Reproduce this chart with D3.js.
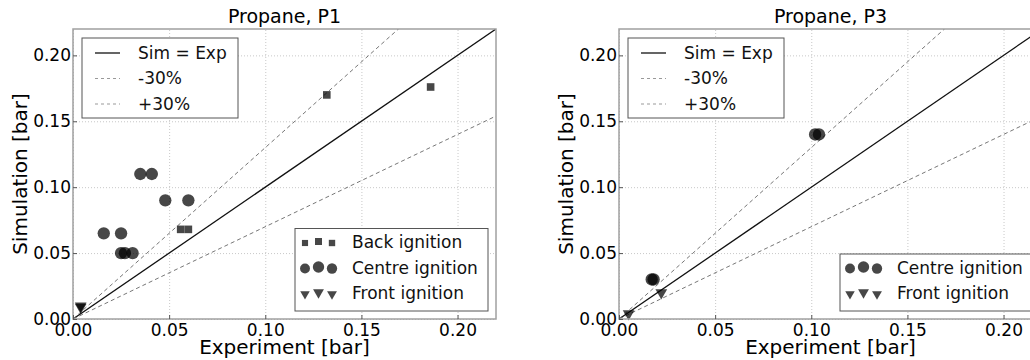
<!DOCTYPE html>
<html>
<head>
<meta charset="utf-8">
<script src="https://cdn.jsdelivr.net/npm/d3@7"></script>
<style>
  body { margin: 0; background: white; }
  svg { font-family: "DejaVu Sans", sans-serif; }
</style>
</head>
<body>
<div id="chart"></div>
<script>
// valeurs
const TICKS = [0, 0.05, 0.10, 0.15, 0.20]
const REF_FACTORS = [1, 1.3, 0.7]
const REF_LABELS = ['Sim = Exp', '-30%', '+30%']

const p1BackExp = [0.132, 0.186, 0.056, 0.060]
const p1BackSim = [0.170, 0.176, 0.068, 0.068]
const p1CentreExp = [0.035, 0.041, 0.016, 0.025, 0.048, 0.060, 0.025, 0.027, 0.031]
const p1CentreSim = [0.110, 0.110, 0.065, 0.065, 0.090, 0.090, 0.050, 0.050, 0.050]
const p1FrontExp = [0.004, 0.004]
const p1FrontSim = [0.010, 0.009]

const p3CentreExp = [0.102, 0.104, 0.017, 0.018]
const p3CentreSim = [0.140, 0.140, 0.030, 0.030]
const p3FrontExp = [0.005, 0.022]
const p3FrontSim = [0.004, 0.020]

const WIDTH = 1030
const HEIGHT = 360
const TOP = 29
const PLOT_W = 423
const PLOT_H = 290
const DOMAIN_MAX = 0.22

const svg = d3.select('#chart').append('svg').attr('width', WIDTH).attr('height', HEIGHT)

const MARKERS = {
  square: { type: d3.symbolSquare, size: 58, rot: 0 },
  circle: { type: d3.symbolCircle, size: 120, rot: 0 },
  triangle: { type: d3.symbolTriangle, size: 60, rot: 180 }
}

function zip(xs, ys) {
  return xs.map((x, i) => ({ x: x, y: ys[i] }))
}

function drawPanel(left, title, series, clipId, legendPos) {
  const g = svg.append('g').attr('transform', `translate(${left}, ${TOP})`)
  const x = d3.scaleLinear().domain([0, DOMAIN_MAX]).range([0, PLOT_W])
  const y = d3.scaleLinear().domain([0, DOMAIN_MAX]).range([PLOT_H, 0])

  g.append('clipPath').attr('id', clipId)
    .append('rect').attr('width', PLOT_W).attr('height', PLOT_H)

  // grille en pointilles
  g.append('g').attr('transform', `translate(0, ${PLOT_H})`)
    .call(d3.axisBottom(x).tickValues(TICKS).tickSize(-PLOT_H).tickFormat(''))
    .call(a => a.select('.domain').remove())
    .selectAll('line').attr('stroke', '#c8c8c8').attr('stroke-dasharray', '1,2')
  g.append('g')
    .call(d3.axisLeft(y).tickValues(TICKS).tickSize(-PLOT_W).tickFormat(''))
    .call(a => a.select('.domain').remove())
    .selectAll('line').attr('stroke', '#c8c8c8').attr('stroke-dasharray', '1,2')

  // droites de reference
  const lines = g.append('g').attr('clip-path', `url(#${clipId})`)
  REF_FACTORS.forEach((f, i) => {
    lines.append('line')
      .attr('x1', x(0)).attr('y1', y(0))
      .attr('x2', x(DOMAIN_MAX)).attr('y2', y(f * DOMAIN_MAX))
      .attr('stroke', i === 0 ? '#111' : '#777')
      .attr('stroke-width', i === 0 ? 1.3 : 1)
      .attr('stroke-dasharray', i === 0 ? null : '4,3')
  })

  // points
  const pts = g.append('g')
  series.forEach(s => {
    const m = MARKERS[s.marker]
    pts.selectAll(null)
      .data(zip(s.xs, s.ys))
      .enter()
      .append('path')
      .attr('d', d3.symbol(m.type, m.size))
      .attr('transform', d => `translate(${x(d.x)}, ${y(d.y)}) rotate(${m.rot})`)
      .attr('fill', '#000')
      .attr('fill-opacity', 0.72)
  })

  // cadre
  g.append('rect').attr('width', PLOT_W).attr('height', PLOT_H)
    .attr('fill', 'none').attr('stroke', '#a0a0a0').attr('stroke-width', 1.5)

  // axes
  const axX = g.append('g').attr('transform', `translate(0, ${PLOT_H})`)
    .call(d3.axisBottom(x).tickValues(TICKS).tickSize(-4).tickPadding(5).tickFormat(d3.format('.2f')))
  const axY = g.append('g')
    .call(d3.axisLeft(y).tickValues(TICKS).tickSize(-4).tickPadding(2).tickFormat(d3.format('.2f')))
  ;[axX, axY].forEach(a => {
    a.select('.domain').remove()
    a.selectAll('line').attr('stroke', '#555')
    a.selectAll('text').attr('font-size', 17).attr('font-family', 'DejaVu Sans').attr('fill', '#000')
  })

  g.append('text')
    .attr('x', PLOT_W / 2).attr('y', -6)
    .attr('text-anchor', 'middle').attr('font-size', 19)
    .text(title)
  g.append('text')
    .attr('x', PLOT_W / 2).attr('y', PLOT_H + 35)
    .attr('text-anchor', 'middle').attr('font-size', 20)
    .text('Experiment [bar]')
  g.append('text')
    .attr('transform', `translate(-46, ${PLOT_H / 2}) rotate(-90)`)
    .attr('text-anchor', 'middle').attr('font-size', 20)
    .text('Simulation [bar]')

  // legende des droites (haut gauche)
  const lg1 = g.append('g').attr('transform', 'translate(9, 9)')
  lg1.append('rect').attr('width', 156).attr('height', 80)
    .attr('fill', 'white').attr('stroke', '#555').attr('stroke-width', 1)
  REF_LABELS.forEach((lab, i) => {
    const yy = 15 + i * 25.5
    lg1.append('line').attr('x1', 13).attr('x2', 38).attr('y1', yy).attr('y2', yy)
      .attr('stroke', i === 0 ? '#111' : '#999')
      .attr('stroke-width', i === 0 ? 1.3 : 1)
      .attr('stroke-dasharray', i === 0 ? null : '3,3')
    lg1.append('text').attr('x', 56).attr('y', yy).attr('dy', '0.35em')
      .attr('font-size', 17).attr('fill', '#111').text(lab)
  })

  // legende des points (bas droite)
  const lgH = 6 + series.length * 25.5
  const lg2 = g.append('g').attr('transform', `translate(${legendPos}, ${PLOT_H - 8 - lgH})`)
  lg2.append('rect').attr('width', 193).attr('height', lgH)
    .attr('fill', 'white').attr('stroke', '#555').attr('stroke-width', 1)
  const SCALES = [0.65, 0.85, 0.7]
  series.forEach((s, i) => {
    const m = MARKERS[s.marker]
    const yy = 14 + i * 25.5
    SCALES.forEach((k, j) => {
      lg2.append('path')
        .attr('d', d3.symbol(m.type, m.size * k))
        .attr('transform', `translate(${10 + j * 13.5}, ${yy + (j === 1 ? -1 : 0.5)}) rotate(${m.rot})`)
        .attr('fill', '#000').attr('fill-opacity', 0.72)
    })
    lg2.append('text').attr('x', 57).attr('y', yy).attr('dy', '0.35em')
      .attr('font-size', 17).attr('fill', '#111').text(s.label)
  })
}

drawPanel(73, 'Propane, P1', [
  { label: 'Back ignition', marker: 'square', xs: p1BackExp, ys: p1BackSim },
  { label: 'Centre ignition', marker: 'circle', xs: p1CentreExp, ys: p1CentreSim },
  { label: 'Front ignition', marker: 'triangle', xs: p1FrontExp, ys: p1FrontSim }
], 'clipP1', 222)

drawPanel(619, 'Propane, P3', [
  { label: 'Centre ignition', marker: 'circle', xs: p3CentreExp, ys: p3CentreSim },
  { label: 'Front ignition', marker: 'triangle', xs: p3FrontExp, ys: p3FrontSim }
], 'clipP3', 221)
</script>
</body>
</html>
